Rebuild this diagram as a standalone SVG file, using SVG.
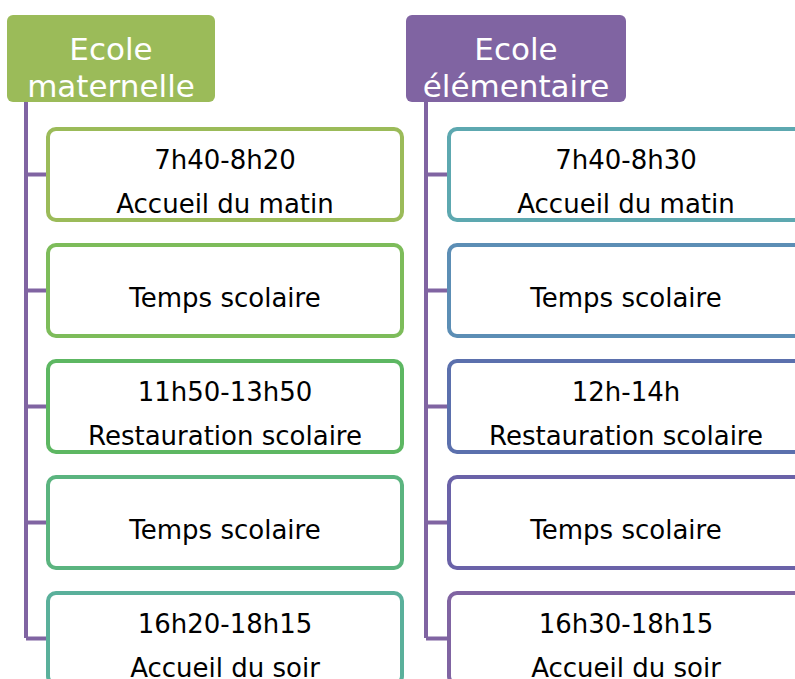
<svg xmlns="http://www.w3.org/2000/svg" width="795" height="679" viewBox="0 0 795 679">
<style>
.hdr{stroke:none}
.ht{font-family:"DejaVu Sans",Verdana,sans-serif;font-size:31px;fill:#fff;text-anchor:middle}
.box{fill:#fff;stroke-width:4}
.bt{font-family:"DejaVu Sans",Verdana,sans-serif;font-size:26px;fill:#000;text-anchor:middle}
.con{stroke:#8064A2;stroke-width:4;fill:none}
</style>
<rect width="795" height="679" fill="#fff"/>
<g id="connectors">
<path class="con" d="M26 102V638M26 174.5H48M26 290.5H48M26 406.5H48M26 522.5H48M26 638.5H48"/>
<path class="con" d="M426 102V638M426 174.5H449M426 290.5H449M426 406.5H449M426 522.5H449M426 638.5H449"/>
</g>
<g id="h-maternelle">
<rect class="hdr" x="7" y="15" width="208" height="87" rx="6" fill="#9BBB59"/>
<text class="ht" x="111" y="60">Ecole</text>
<text class="ht" x="111" y="97">maternelle</text>
</g>
<g id="h-elementaire">
<rect class="hdr" x="406" y="15" width="220" height="87" rx="6" fill="#8064A2"/>
<text class="ht" x="516" y="60">Ecole</text>
<text class="ht" x="516" y="97">élémentaire</text>
</g>
<g id="m1"><rect class="box" x="48" y="129" width="354" height="91" rx="8" stroke="#9BBB59"/>
<text class="bt" x="225" y="169">7h40-8h20</text><text class="bt" x="225" y="213">Accueil du matin</text></g>
<g id="m2"><rect class="box" x="48" y="245" width="354" height="91" rx="8" stroke="#7DBC5A"/>
<text class="bt" x="225" y="307">Temps scolaire</text></g>
<g id="m3"><rect class="box" x="48" y="361" width="354" height="91" rx="8" stroke="#5DB762"/>
<text class="bt" x="225" y="401">11h50-13h50</text><text class="bt" x="225" y="445">Restauration scolaire</text></g>
<g id="m4"><rect class="box" x="48" y="477" width="354" height="91" rx="8" stroke="#5BB47F"/>
<text class="bt" x="225" y="539">Temps scolaire</text></g>
<g id="m5"><rect class="box" x="48" y="593" width="354" height="91" rx="8" stroke="#5AB09B"/>
<text class="bt" x="225" y="633">16h20-18h15</text><text class="bt" x="225" y="677">Accueil du soir</text></g>
<g id="e1"><rect class="box" x="449" y="129" width="354" height="91" rx="8" stroke="#5DA8B0"/>
<text class="bt" x="626" y="169">7h40-8h30</text><text class="bt" x="626" y="213">Accueil du matin</text></g>
<g id="e2"><rect class="box" x="449" y="245" width="354" height="91" rx="8" stroke="#5C8EB5"/>
<text class="bt" x="626" y="307">Temps scolaire</text></g>
<g id="e3"><rect class="box" x="449" y="361" width="354" height="91" rx="8" stroke="#5B70AD"/>
<text class="bt" x="626" y="401">12h-14h</text><text class="bt" x="626" y="445">Restauration scolaire</text></g>
<g id="e4"><rect class="box" x="449" y="477" width="354" height="91" rx="8" stroke="#6A62A8"/>
<text class="bt" x="626" y="539">Temps scolaire</text></g>
<g id="e5"><rect class="box" x="449" y="593" width="354" height="91" rx="8" stroke="#8064A2"/>
<text class="bt" x="626" y="633">16h30-18h15</text><text class="bt" x="626" y="677">Accueil du soir</text></g>
</svg>
